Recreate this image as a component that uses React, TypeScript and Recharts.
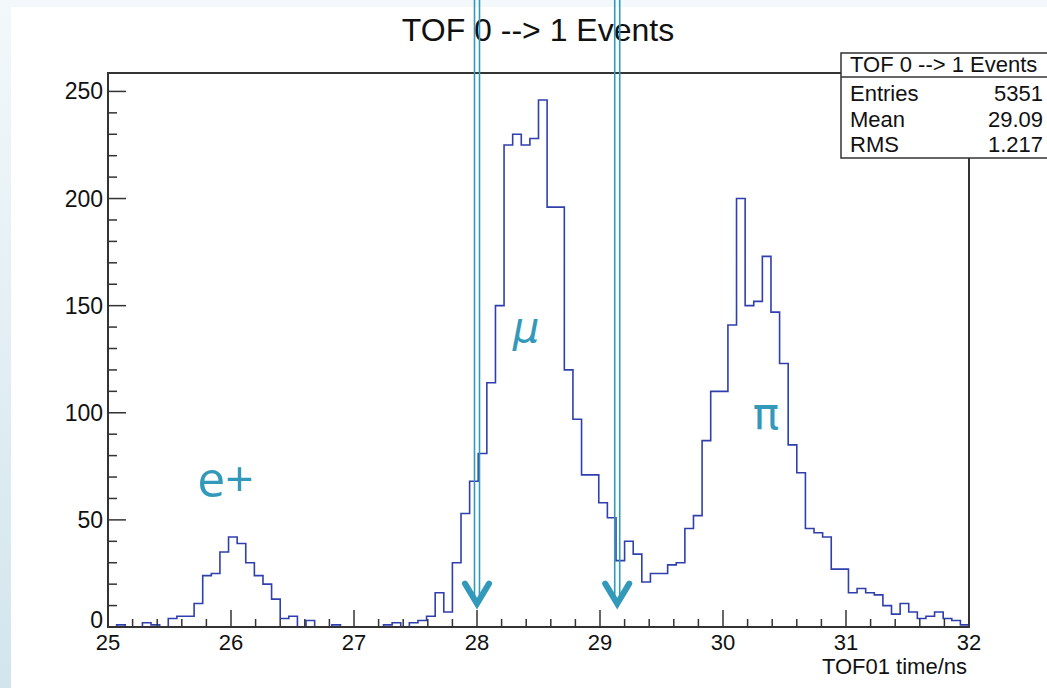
import { ComposedChart, Line, XAxis, YAxis, ReferenceArea, ReferenceLine, ReferenceDot } from "recharts"

const FONT = '"Liberation Sans", Arial, Helvetica, sans-serif'
const HIST_BLUE = "#2f3fae"
const TEAL = "#3399bb"
const AXIS = "#333333"

// histogram: 100 bins between 25 and 32 ns
const BIN_LOW = 25
const BIN_HIGH = 32
const BIN_WIDTH = 0.07
const counts = [
  0, 1, 0, 0, 2, 1, 0, 4, 5, 5,
  11, 24, 25, 35, 42, 39, 30, 24, 20, 13,
  4, 5, 0, 3, 0, 0, 1, 0, 0, 0,
  0, 0, 1, 2, 0, 2, 3, 5, 16, 7,
  30, 53, 68, 81, 114, 150, 225, 230, 225, 228,
  246, 196, 196, 120, 97, 71, 71, 58, 51, 31,
  40, 34, 21, 25, 25, 29, 30, 46, 52, 87,
  110, 110, 141, 200, 150, 152, 173, 147, 123, 85,
  72, 46, 44, 42, 27, 27, 16, 18, 16, 15,
  10, 6, 11, 7, 4, 5, 7, 4, 3, 1,
]

const xTicks = [
  25, 25.2, 25.4, 25.6, 25.8, 26, 26.2, 26.4, 26.6, 26.8,
  27, 27.2, 27.4, 27.6, 27.8, 28, 28.2, 28.4, 28.6, 28.8,
  29, 29.2, 29.4, 29.6, 29.8, 30, 30.2, 30.4, 30.6, 30.8,
  31, 31.2, 31.4, 31.6, 31.8, 32,
]
const yTicks = [
  0, 10, 20, 30, 40, 50, 60, 70, 80, 90, 100, 110, 120,
  130, 140, 150, 160, 170, 180, 190, 200, 210, 220, 230, 240, 250,
]
const Y_MAX = 258.6

// cut positions (ns) and particle labels
const cuts = [28.0, 29.14]
const labels = [
  { text: "e+", x: 25.955, y: 60.5, size: 50, italic: false, weight: 400, family: '"Open Sans", sans-serif' },
  { text: "\u03bc", x: 28.4, y: 133, size: 42, italic: true, weight: 400, family: '"DejaVu Sans", sans-serif' },
  { text: "\u03c0", x: 30.35, y: 92.5, size: 44, italic: false, weight: 400, family: '"DejaVu Sans", sans-serif' },
]

const stats = [
  { name: "Entries", value: "5351" },
  { name: "Mean", value: "29.09" },
  { name: "RMS", value: "1.217" },
]

const histData = counts.map((c, i) => ({ edge: +(BIN_LOW + i * BIN_WIDTH).toFixed(2), count: c }))
histData.push({ edge: BIN_HIGH, count: counts[counts.length - 1] })

function XTick(props: any) {
  const { x, y, payload } = props
  const major = Number.isInteger(payload.value)
  return (
    <g>
      <line x1={x} y1={y} x2={x} y2={y - (major ? 17 : 8)} stroke={AXIS} strokeWidth={1.5} />
      {major && (
        <text x={x} y={y + 23} textAnchor="middle" fontSize={22} fontFamily={FONT} fill="#111">
          {payload.value}
        </text>
      )}
    </g>
  )
}

function YTick(props: any) {
  const { x, y, payload } = props
  const major = payload.value % 50 === 0
  // the zero label sits a little higher so it clears the "25" below it
  const dy = payload.value === 0 ? 1 : 8
  return (
    <g>
      <line x1={x} y1={y} x2={x + (major ? 18 : 9)} y2={y} stroke={AXIS} strokeWidth={1.5} />
      {major && (
        <text x={x - 5} y={y + dy} textAnchor="end" fontSize={23} fontFamily={FONT} fill="#111">
          {payload.value}
        </text>
      )}
    </g>
  )
}

function CutArrow(props: any) {
  const { x1, y1, y2 } = props
  const tip = y2 - 3
  return (
    <g>
      <line x1={x1 - 2.5} y1={y1} x2={x1 - 2.5} y2={tip - 4} stroke={TEAL} strokeWidth={1.6} />
      <line x1={x1 + 2.5} y1={y1} x2={x1 + 2.5} y2={tip - 4} stroke={TEAL} strokeWidth={1.6} />
      <polyline
        points={`${x1 - 12},${tip - 20} ${x1},${tip} ${x1 + 12},${tip - 20}`}
        fill="none"
        stroke={TEAL}
        strokeWidth={6}
        strokeLinecap="round"
      />
    </g>
  )
}

export default function App() {
  return (
    <div
      style={{
        position: "absolute",
        left: 0,
        top: 0,
        width: 1047,
        height: 688,
        overflow: "hidden",
        background: "linear-gradient(to bottom, #f3f8fa, #d2e5ed)",
        fontFamily: FONT,
      }}
    >
      <div style={{ position: "absolute", left: 11, top: 7, right: 0, bottom: 0, background: "#fff" }} />

      <svg width={1047} height={688} style={{ position: "absolute", left: 0, top: 0 }}>
        <text x={538} y={41} textAnchor="middle" fontSize={32} fontFamily={FONT} fill="#111">
          TOF 0 --&gt; 1 Events
        </text>
        <text x={967} y={674} textAnchor="end" fontSize={22} fontFamily={FONT} fill="#111">
          TOF01 time/ns
        </text>
      </svg>

      <div style={{ position: "absolute", left: 0, top: 0 }}>
        <ComposedChart
          width={1047}
          height={688}
          data={histData}
          margin={{ top: 73, right: 78, bottom: 31, left: 48 }}
        >
          <XAxis
            type="number"
            dataKey="edge"
            domain={[BIN_LOW, BIN_HIGH]}
            ticks={xTicks}
            interval={0}
            tickSize={0}
            tickMargin={0}
            tickLine={false}
            tick={<XTick />}
            axisLine={{ stroke: AXIS, strokeWidth: 2 }}
            height={30}
            allowDataOverflow
          />
          <YAxis
            type="number"
            domain={[0, Y_MAX]}
            ticks={yTicks}
            interval={0}
            tickSize={0}
            tickMargin={0}
            tickLine={false}
            tick={<YTick />}
            axisLine={{ stroke: AXIS, strokeWidth: 2 }}
            width={60}
            allowDataOverflow
          />
          <ReferenceArea
            x1={BIN_LOW}
            x2={BIN_HIGH}
            y1={0}
            y2={Y_MAX}
            fill="none"
            fillOpacity={0}
            stroke={AXIS}
            strokeWidth={2}
            ifOverflow="visible"
          />
          <Line
            type="stepAfter"
            dataKey="count"
            stroke={HIST_BLUE}
            strokeWidth={1.6}
            dot={false}
            activeDot={false}
            isAnimationActive={false}
          />
          {labels.map((l) => (
            <ReferenceDot
              key={l.text}
              x={l.x}
              y={l.y}
              r={0}
              ifOverflow="visible"
              shape={(p: any) => (
                <text
                  x={p.cx}
                  y={p.cy}
                  textAnchor="middle"
                  fontSize={l.size}
                  fontStyle={l.italic ? "italic" : "normal"}
                  fontWeight={l.weight}
                  fontFamily={l.family}
                  fill={TEAL}
                >
                  {l.text}
                </text>
              )}
            />
          ))}
          {cuts.map((c) => (
            <ReferenceLine
              key={c}
              segment={[{ x: c, y: 300 }, { x: c, y: 9.5 }]}
              ifOverflow="visible"
              shape={<CutArrow />}
            />
          ))}
        </ComposedChart>
      </div>

      <svg width={1047} height={688} style={{ position: "absolute", left: 0, top: 0, pointerEvents: "none" }}>
        <rect x={841} y={53} width={230} height={105} fill="#fff" stroke={AXIS} strokeWidth={1.5} />
        <line x1={841} y1={77} x2={1047} y2={77} stroke={AXIS} strokeWidth={1.5} />
        <text x={850} y={72} fontSize={22} fontFamily={FONT} fill="#111">
          TOF 0 --&gt; 1 Events
        </text>
        {stats.map((s, i) => (
          <g key={s.name}>
            <text x={850} y={101 + i * 25.5} fontSize={22} fontFamily={FONT} fill="#111">
              {s.name}
            </text>
            <text x={1043} y={101 + i * 25.5} textAnchor="end" fontSize={22} fontFamily={FONT} fill="#111">
              {s.value}
            </text>
          </g>
        ))}
      </svg>
    </div>
  )
}
